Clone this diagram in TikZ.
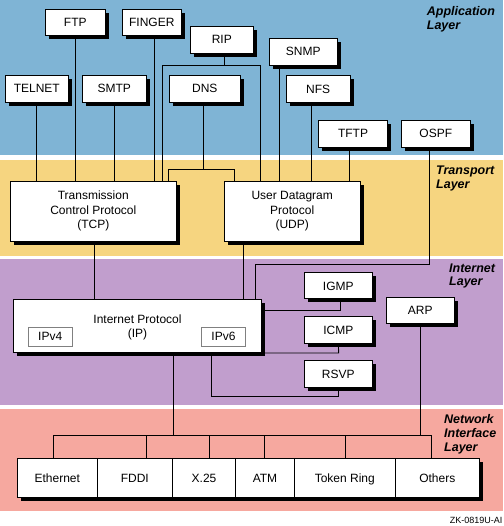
\documentclass[tikz,border=0pt]{standalone}
\usepackage{fontspec}
\setmainfont{Liberation Sans}
\usetikzlibrary{shadows}
\pgfdeclarelayer{bands}
\pgfdeclarelayer{wires}
\pgfsetlayers{bands,wires,main}
\definecolor{appblue}{RGB}{127,180,213}
\definecolor{trnyellow}{RGB}{246,213,128}
\definecolor{netpurple}{RGB}{193,158,205}
\definecolor{nicpink}{RGB}{246,168,159}
\tikzset{
  box/.style={draw=black, line width=1pt, fill=white, inner sep=0pt, align=center,
    drop shadow={fill=black, opacity=1, shadow xshift=3.5pt, shadow yshift=-3.5pt}},
  oneline/.style={text height=8.6pt, text depth=0pt},
  cell/.style={draw=black, line width=1pt, fill=white, inner sep=0pt, minimum height=39pt,
    text height=8.6pt, text depth=0pt,
    drop shadow={fill=black, opacity=1, shadow xshift=3.5pt, shadow yshift=-3.5pt}},
  subbox/.style={draw=black!50, line width=1pt, fill=white, inner sep=0pt, minimum width=44.4pt, minimum height=19pt,
    text height=8.6pt, text depth=0pt},
  wire/.style={line width=0.9pt},
  layerlbl/.style={font=\fontsize{12.5}{13.8}\selectfont\bfseries\itshape, align=left, anchor=west, inner sep=0pt},
}
\begin{document}
\begin{tikzpicture}[x=1pt, y=-1pt, font=\fontsize{12}{14.5}\selectfont]
\useasboundingbox (0,0) rectangle (503,526);
% bands
\begin{pgfonlayer}{bands}
  \fill[white] (0,0) rectangle (503,526);
  \fill[appblue] (0,0) rectangle (503,155.5);
  \fill[trnyellow] (0,160) rectangle (503,256);
  \fill[netpurple] (0,259) rectangle (503,404.5);
  \fill[nicpink] (0,409) rectangle (503,511);
\end{pgfonlayer}
% layer labels
\node[layerlbl] (lapp) at (426.7,19) {Application\\Layer};
\node[layerlbl] (ltrn) at (436,178.3) {Transport\\Layer};
\node[layerlbl] (lnet) at (449,276) {Internet\\Layer};
\node[layerlbl] (lnic) at (444,434) {Network\\Interface\\Layer};
% application boxes
\node[box, oneline, minimum width=60pt, minimum height=26pt] (ftp) at (75.3,22.3) {FTP};
\node[box, oneline, minimum width=59pt, minimum height=26pt] (finger) at (151.8,22.3) {FINGER};
\node[box, oneline, minimum width=63pt, minimum height=27pt] (rip) at (221.8,39.7) {RIP};
\node[box, oneline, minimum width=63pt, minimum height=26.7pt] (telnet) at (36.8,88.7) {TELNET};
\node[box, oneline, minimum width=64pt, minimum height=26.7pt] (smtp) at (114.3,88.7) {SMTP};
\node[box, oneline, minimum width=71pt, minimum height=26.7pt] (dns) at (204.8,88.7) {DNS};
\node[box, oneline, minimum width=68pt, minimum height=26.7pt] (snmp) at (303.3,51.7) {SNMP};
\node[box, oneline, minimum width=64.3pt, minimum height=26.7pt] (nfs) at (318.2,88.8) {NFS};
\node[box, oneline, minimum width=69.4pt, minimum height=26.7pt] (tftp) at (353,133.7) {TFTP};
\node[box, oneline, minimum width=69pt, minimum height=26.7pt] (ospf) at (435.8,133.7) {OSPF};
% transport
\node[box, minimum width=166pt, minimum height=59.7pt] (tcp) at (93.3,211.2) {Transmission\\Control Protocol\\(TCP)};
\node[box, minimum width=135.7pt, minimum height=59.7pt] (udp) at (292.2,211.2) {User Datagram\\Protocol\\(UDP)};
% internet
\node[box, minimum width=248.4pt, minimum height=53pt] (ip) at (137.5,325.8) {};
\node (iptext) at (137.5,327.5) [align=center, inner sep=0pt] {Internet Protocol\\(IP)};
\node[subbox] (ipv4) at (50.2,336.5) {IPv4};
\node[subbox] (ipv6) at (223.5,336.5) {IPv6};
\node[box, oneline, minimum width=68pt, minimum height=26pt] (igmp) at (338.3,285.7) {IGMP};
\node[box, oneline, minimum width=68pt, minimum height=26.7pt] (icmp) at (338.3,330) {ICMP};
\node[box, oneline, minimum width=68pt, minimum height=26.7pt] (rsvp) at (338.3,374) {RSVP};
\node[box, oneline, minimum width=67.7pt, minimum height=26pt] (arp) at (420.2,310.3) {ARP};
% network interface row
\node[cell, minimum width=80pt] (eth) at (57.3,477.8) {Ethernet};
\node[cell, minimum width=75pt] (fddi) at (134.8,477.8) {FDDI};
\node[cell, minimum width=63.4pt] (x25) at (204,477.8) {X.25};
\node[cell, minimum width=58.6pt] (atm) at (265,477.8) {ATM};
\node[cell, minimum width=101pt] (tring) at (344.8,477.8) {Token Ring};
\node[cell, minimum width=84pt] (others) at (437.3,477.8) {Others};
\node[anchor=east, inner sep=0pt, font=\fontsize{9}{10}\selectfont] (fig) at (502.5,520.5) {ZK-0819U-AI};
% connectors
\coordinate (ripL) at (162.3,65);
\coordinate (ripR) at (260.7,65);
\coordinate (dnsL) at (168.3,169.3);
\coordinate (dnsR) at (234.3,169.3);
\coordinate (ospfA) at (429.3,264);
\coordinate (ospfB) at (255,264);
\coordinate (tcpdown) at (94.7,241);
\coordinate (udpdown) at (243.7,241);
\coordinate (igmpA) at (340.3,310);
\coordinate (icmpA) at (338.7,353);
\coordinate (rsvpA) at (211.7,396.7);
\coordinate (rsvpB) at (338.7,396.7);
\coordinate (ipdown) at (173.3,352);
\coordinate (busL) at (53.3,435);
\coordinate (busR) at (431,435);
\begin{pgfonlayer}{wires}
\draw[wire] (telnet.south) -- (telnet.south |- tcp.north);
\draw[wire] (ftp.south) -- (ftp.south |- tcp.north);
\draw[wire] (smtp.south) -- (smtp.south |- tcp.north);
\draw[wire] ([xshift=2.5pt]finger.south) -- ([xshift=2.5pt]finger.south |- tcp.north);
\draw[wire] ([xshift=2.5pt]rip.south) -- ([xshift=2.5pt]rip.south |- ripL);
\draw[wire] (ripL |- tcp.north) -- (ripL) -- (ripR) -- (ripR |- udp.north);
\draw[wire] ([xshift=-1.5pt]dns.south) -- ([xshift=-1.5pt]dns.south |- dnsL);
\draw[wire] (dnsL |- tcp.north) -- (dnsL) -- (dnsR) -- (dnsR |- udp.north);
\draw[wire] ([xshift=-24pt]snmp.south) -- ([xshift=-24pt]snmp.south |- udp.north);
\draw[wire] ([xshift=-7pt]nfs.south) -- ([xshift=-7pt]nfs.south |- udp.north);
\draw[wire] ([xshift=-3.7pt]tftp.south) -- ([xshift=-3.7pt]tftp.south |- udp.north);
\draw[wire] ([xshift=-6.5pt]ospf.south) -- (ospfA) -- (ospfB) -- (ospfB |- ip.north);
\draw[wire] (tcpdown) -- (tcpdown |- ip.north);
\draw[wire] (udpdown) -- (udpdown |- ip.north);
\draw[wire] ([xshift=2pt]igmp.south) -- (igmpA) -- (igmpA -| ip.east);
\draw[wire] (icmp.south) -- (icmpA) -- (icmpA -| ip.east);
\draw[wire] (rsvpA |- ip.south) -- (rsvpA) -- (rsvpB) -- (rsvpB |- rsvp.south);
\draw[wire] (ipdown) -- (ipdown |- busL);
\draw[wire] (arp.south) -- (arp.south |- busL);
\draw[wire] (busL |- eth.north) -- (busL) -- (busR) -- (busR |- others.north);
\draw[wire] (146.7,435) -- (146.7,458.3);
\draw[wire] (209.3,435) -- (209.3,458.3);
\draw[wire] (264.3,435) -- (264.3,458.3);
\draw[wire] (345.7,435) -- (345.7,458.3);
\end{pgfonlayer}
\end{tikzpicture}
\end{document}
